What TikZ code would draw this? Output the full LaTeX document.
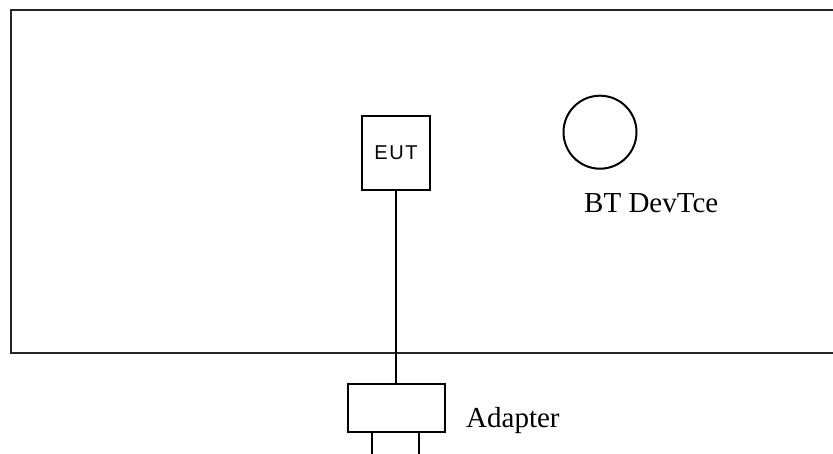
\documentclass[tikz,border=0pt]{standalone}
\usepackage{fontspec}
\setmainfont{Liberation Serif}
\newfontfamily\eutfont[LetterSpace=8]{Liberation Sans}
\begin{document}
\begin{tikzpicture}[x=1pt,y=-1pt,
  ln/.style={line width=2pt,draw=black!85},
  lbl/.style={font=\fontsize{29}{32}\selectfont,inner sep=0pt,anchor=base west}]
\useasboundingbox (0,0) rectangle (833,454);
% big enclosure, open on the right
\coordinate (rtop) at (835,10.5);
\coordinate (rbot) at (835,353.5);
\draw[ln] (rtop) -- (11,10.5) -- (11,353.5) -- (rbot);
% EUT
\node[ln,draw=black,minimum width=68pt,minimum height=74pt,inner sep=0pt,
  font=\eutfont\fontsize{20}{22}\selectfont] (eut) at (396,153) {EUT};
% Adapter box
\node[ln,draw=black,minimum width=97pt,minimum height=48pt,inner sep=0pt] (adp) at (396,408) {};
\draw[ln,draw=black] (eut.south) -- (adp.north);
% legs
\coordinate (l1) at (372,456);
\coordinate (l2) at (419,456);
\draw[ln,draw=black] (adp.south -| l1) -- (l1);
\draw[ln,draw=black] (adp.south -| l2) -- (l2);
\node[lbl] (adptxt) at (466,427.3) {Adapter};
% BT device
\node[ln,draw=black,circle,minimum size=73pt,inner sep=0pt] (bt) at (600,132.2) {};
\node[lbl] (bttxt) at (584,212.7) {BT DevTce};
\end{tikzpicture}
\end{document}
